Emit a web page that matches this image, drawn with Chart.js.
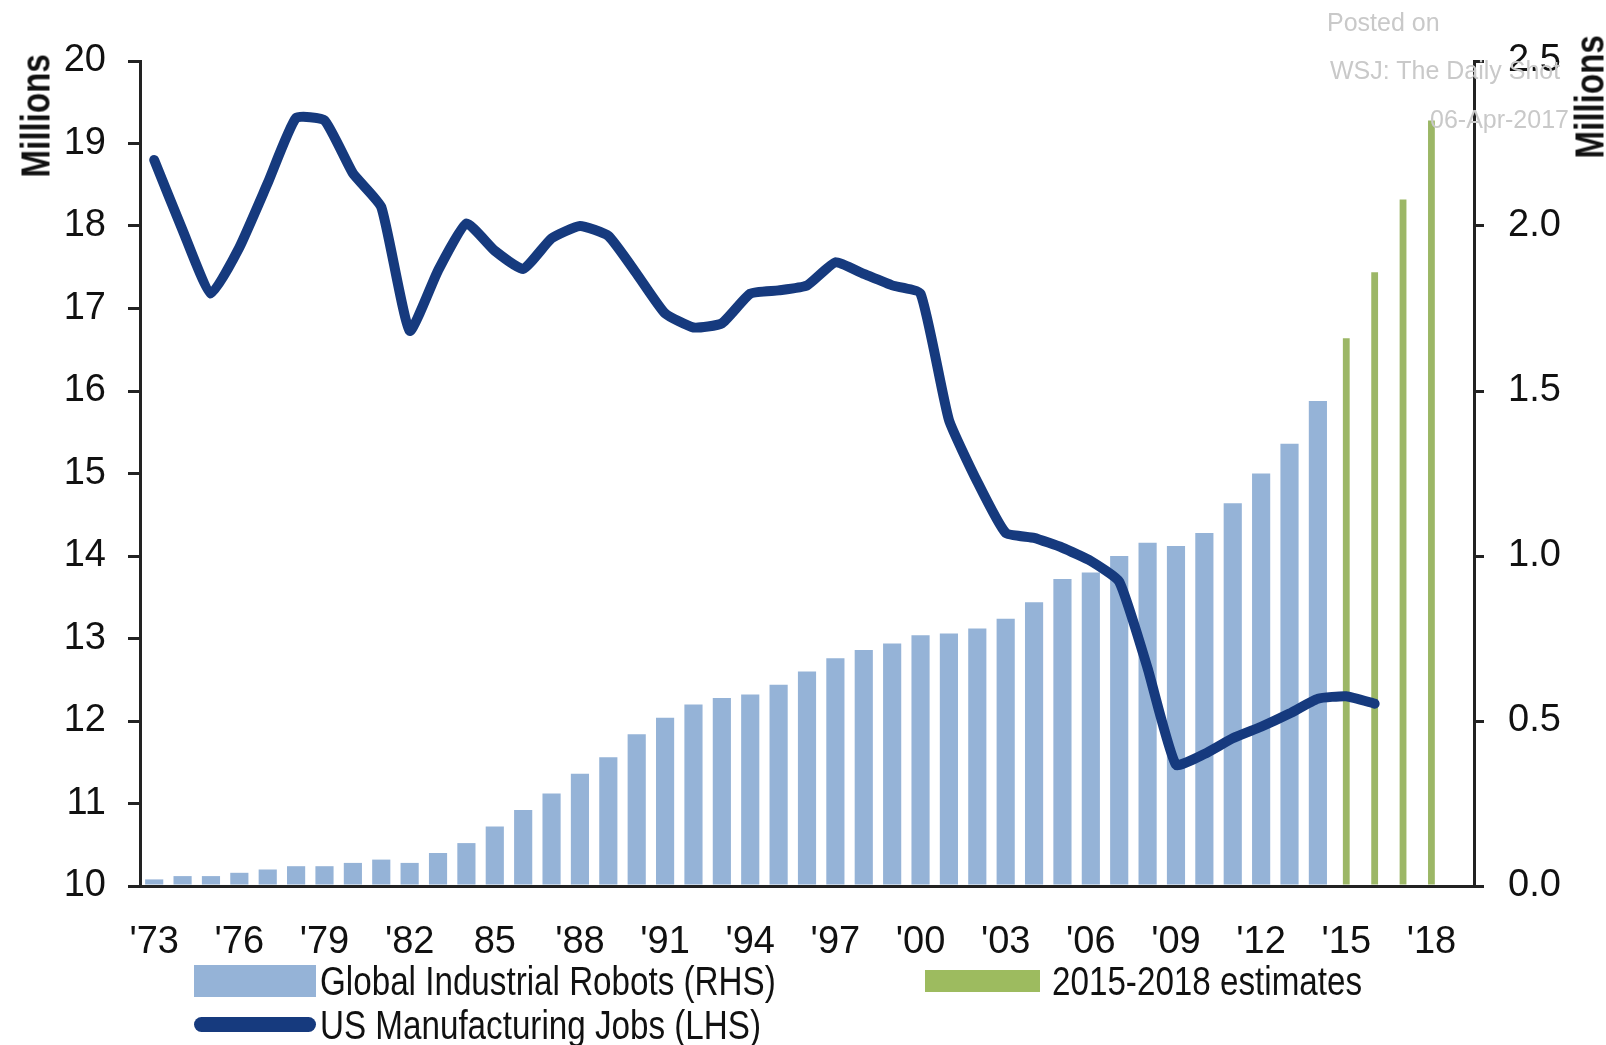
<!DOCTYPE html>
<html>
<head>
<meta charset="utf-8">
<script src="https://cdn.jsdelivr.net/npm/chart.js@4.4.0/dist/chart.umd.min.js"></script>
<style>
  body { margin: 0; background: #fff; }
  #wrap { position: relative; width: 1606px; height: 1045px; overflow: hidden; font-family: 'Liberation Sans', Arial, sans-serif; }
  .ytitle { position: absolute; font-weight: bold; font-size: 40px; color: #111; transform: rotate(-90deg) scaleX(0.83); transform-origin: center center; white-space: nowrap; }
  .mark { position: absolute; font-size: 25px; color: #c9c9c9; white-space: nowrap; }
  .lg { position: absolute; font-size: 40px; color: #111; white-space: nowrap; line-height: 40px; transform: scaleX(0.83); transform-origin: left center; }
  .sw { position: absolute; }
</style>
</head>
<body>
<div id="wrap">
  <canvas id="chart" width="1606" height="1045"></canvas>

  <div class="ytitle" style="left: -34px; top: 97px; width: 140px; text-align: center;">Millions</div>
  <div class="ytitle" style="left: 1520px; top: 78px; width: 140px; text-align: center;">Millions</div>

  <div class="mark" style="left: 1327px; top: 8px;">Posted on</div>
  <div class="mark" style="left: 1330px; top: 56px;">WSJ: The Daily Shot</div>
  <div class="mark" style="left: 1430px; top: 105px;">06-Apr-2017</div>

  <div class="sw" style="left: 194px; top: 965px; width: 122px; height: 32px; background: #95b3d7;"></div>
  <div class="lg" style="left: 320px; top: 961px;">Global Industrial Robots (RHS)</div>
  <div class="sw" style="left: 194px; top: 1017px; width: 122px; height: 15px; border-radius: 8px; background: #163a7e;"></div>
  <div class="lg" style="left: 320px; top: 1005px;">US Manufacturing Jobs (LHS)</div>
  <div class="sw" style="left: 925px; top: 970px; width: 115px; height: 22px; background: #9dbb5f;"></div>
  <div class="lg" style="left: 1052px; top: 961px;">2015-2018 estimates</div>
</div>

<script>
// years on the x axis (2019 is an empty slot, the chart leaves room after '18)
const years = [
  1973, 1974, 1975, 1976, 1977, 1978, 1979, 1980, 1981, 1982,
  1983, 1984, 1985, 1986, 1987, 1988, 1989, 1990, 1991, 1992,
  1993, 1994, 1995, 1996, 1997, 1998, 1999, 2000, 2001, 2002,
  2003, 2004, 2005, 2006, 2007, 2008, 2009, 2010, 2011, 2012,
  2013, 2014, 2015, 2016, 2017, 2018, 2019
];

// labels shown every third year, as printed on the chart
const tickYears = ["'73", "'76", "'79", "'82", "85", "'88", "'91", "'94", "'97", "'00", "'03", "'06", "'09", "'12", "'15", "'18"];

// global industrial robots, millions (RHS)
const robots = [
  0.02, 0.03, 0.03, 0.04, 0.05, 0.06, 0.06, 0.07, 0.08, 0.07,
  0.10, 0.13, 0.18, 0.23, 0.28, 0.34, 0.39, 0.46, 0.51, 0.55,
  0.57, 0.58, 0.61, 0.65, 0.69, 0.715, 0.735, 0.76, 0.765, 0.78,
  0.81, 0.86, 0.93, 0.95, 1.00, 1.04, 1.03, 1.07, 1.16, 1.25,
  1.34, 1.47, null, null, null, null, null
];

// 2015-2018 estimates, millions (RHS)
const estimates = [
  null, null, null, null, null, null, null, null, null, null,
  null, null, null, null, null, null, null, null, null, null,
  null, null, null, null, null, null, null, null, null, null,
  null, null, null, null, null, null, null, null, null, null,
  null, null, 1.66, 1.86, 2.08, 2.32, null
];

// US manufacturing jobs, millions (LHS)
const jobs = [
  18.80, 17.95, 17.18, 17.74, 18.52, 19.31, 19.28, 18.64, 18.23, 16.73,
  17.46, 18.03, 17.70, 17.48, 17.85, 18.00, 17.88, 17.42, 16.94, 16.77,
  16.82, 17.18, 17.22, 17.28, 17.56, 17.42, 17.28, 17.18, 15.65, 14.90,
  14.28, 14.22, 14.10, 13.94, 13.69, 12.64, 11.47, 11.60, 11.79, 11.93,
  12.09, 12.27, 12.30, 12.21, null, null, null
];

const leftTicks = { min: 10, max: 20, step: 1 };
const rightTicks = { min: 0, max: 2.5, step: 0.5 };

const tickFont = { family: "'Liberation Sans', Arial, sans-serif", size: 38 };
const axisColor = '#222';

new Chart(document.getElementById('chart').getContext('2d'), {
  data: {
    labels: years,
    datasets: [
      {
        type: 'line',
        label: 'US Manufacturing Jobs (LHS)',
        data: jobs,
        yAxisID: 'y',
        borderColor: '#163a7e',
        borderWidth: 10,
        borderJoinStyle: 'round',
        borderCapStyle: 'round',
        tension: 0.15,
        pointRadius: 0,
        order: 0
      },
      {
        type: 'bar',
        label: 'Global Industrial Robots (RHS)',
        data: robots,
        yAxisID: 'y1',
        backgroundColor: '#95b3d7',
        barPercentage: 0.64,
        categoryPercentage: 1,
        grouped: false,
        order: 2
      },
      {
        type: 'bar',
        label: '2015-2018 estimates',
        data: estimates,
        yAxisID: 'y1',
        backgroundColor: '#9cb766',
        barPercentage: 0.24,
        categoryPercentage: 1,
        grouped: false,
        order: 1
      }
    ]
  },
  options: {
    responsive: false,
    animation: false,
    devicePixelRatio: 1,
    layout: { padding: { top: 61, left: 0, right: 0, bottom: 0 } },
    plugins: {
      legend: { display: false },
      tooltip: { enabled: false }
    },
    scales: {
      x: {
        offset: true,
        grid: { display: false },
        border: { display: true, color: axisColor, width: 3 },
        ticks: {
          autoSkip: false,
          maxRotation: 0,
          padding: 26,
          color: '#111',
          font: tickFont,
          callback: function (value, index) {
            return index % 3 === 0 ? tickYears[index / 3] : '';
          }
        },
        afterFit: function (scale) { scale.height = 159; }
      },
      y: {
        position: 'left',
        min: leftTicks.min,
        max: leftTicks.max,
        grid: { drawOnChartArea: false, drawTicks: true, tickLength: 12, color: axisColor, lineWidth: 3 },
        border: { display: true, color: axisColor, width: 3 },
        ticks: {
          stepSize: leftTicks.step,
          padding: 22,
          color: '#111',
          font: tickFont
        },
        afterFit: function (scale) { scale.width = 140; }
      },
      y1: {
        position: 'right',
        min: rightTicks.min,
        max: rightTicks.max,
        grid: { drawOnChartArea: false, drawTicks: true, tickLength: 10, color: axisColor, lineWidth: 3 },
        border: { display: true, color: axisColor, width: 3 },
        ticks: {
          stepSize: rightTicks.step,
          padding: 24,
          color: '#111',
          font: tickFont,
          callback: function (value) { return value.toFixed(1); }
        },
        afterFit: function (scale) { scale.width = 132; }
      }
    }
  }
});
</script>
</body>
</html>
